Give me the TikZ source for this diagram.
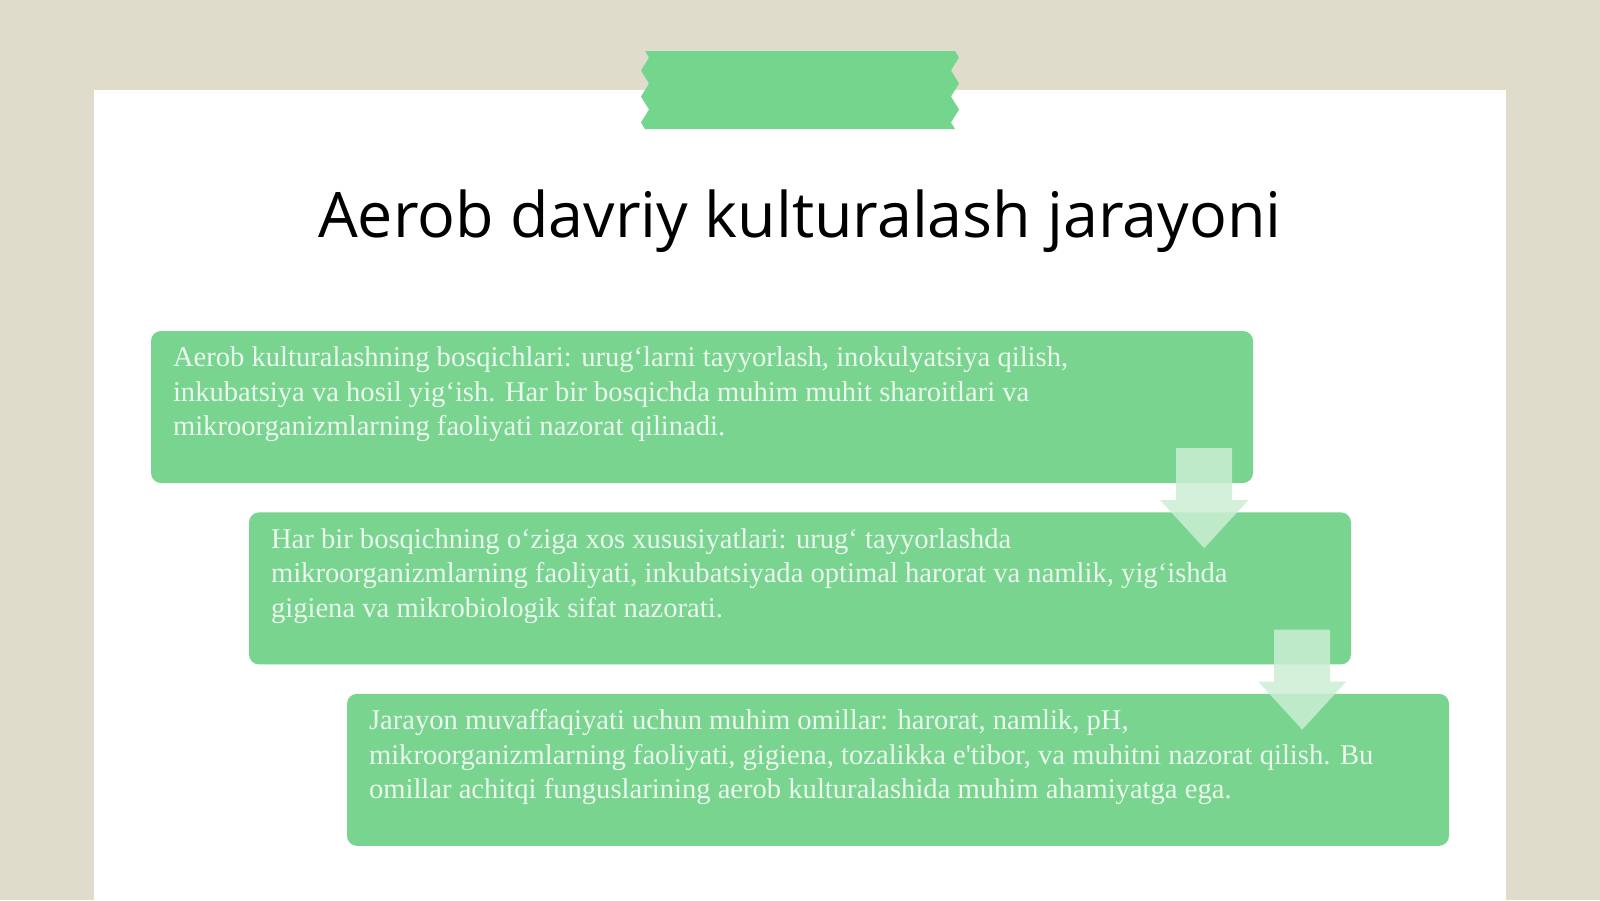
\documentclass[tikz,border=0pt]{standalone}
\usepackage{fontspec}
\setmainfont{Liberation Serif}[Ligatures=TeXOff]
\newfontfamily\titlefont{Open Sans}
\usetikzlibrary{positioning,calc,decorations.pathmorphing}

\definecolor{paper}{RGB}{224,220,204}
\definecolor{boxgreen}{RGB}{120,212,143}
\definecolor{tapegreen}{RGB}{116,213,140}
\definecolor{arrowgreen}{RGB}{204,238,212}

\tikzset{
  stepbox/.style = {fill=boxgreen, rounded corners=10pt, inner sep=0pt,
                    minimum width=1102pt, minimum height=152pt},
  steptext/.style = {text=white, text opacity=0.85, inner sep=0pt, align=left,
                     font=\fontsize{28.6}{34.5}\selectfont},
  flowarrow/.style = {fill=arrowgreen, fill opacity=0.85},
  tapeedge/.style = {decoration={zigzag, segment length=26pt, amplitude=4pt}},
}

\begin{document}
\begin{tikzpicture}[x=1pt, y=-1pt]
  \fill[paper] (0,0) rectangle (1600,900);
  \useasboundingbox (0,0) rectangle (1600,900);
  \fill[white] (94,90) rectangle (1506,900);

  % tape
  \fill[tapegreen] (645,51) -- (955,51)
    decorate[tapeedge] {-- (955,129)} -- (645,129)
    decorate[tapeedge] {-- (645,51)};

  \node[anchor=base, font=\titlefont\fontsize{62.8}{70}\selectfont] (title) at (800,237)
    {Aerob davriy kulturalash jarayoni};

  \node[stepbox] (box1) at (702,407) {};
  \node[stepbox, below=29pt of box1, xshift=98pt] (box2) {};
  \node[stepbox, below=29pt of box2, xshift=98pt] (box3) {};

  \node[steptext, below right=16pt and 22pt of box1.north west] (t1)
    {Aerob kulturalashning bosqichlari: urug‘larni tayyorlash, inokulyatsiya qilish,\\
     inkubatsiya va hosil yig‘ish. Har bir bosqichda muhim muhit sharoitlari va\\
     mikroorganizmlarning faoliyati nazorat qilinadi.};
  \node[steptext, below right=16pt and 22pt of box2.north west] (t2)
    {Har bir bosqichning o‘ziga xos xususiyatlari: urug‘ tayyorlashda\\
     mikroorganizmlarning faoliyati, inkubatsiyada optimal harorat va namlik, yig‘ishda\\
     gigiena va mikrobiologik sifat nazorati.};
  \node[steptext, below right=16pt and 22pt of box3.north west] (t3)
    {Jarayon muvaffaqiyati uchun muhim omillar: harorat, namlik, pH,\\
     mikroorganizmlarning faoliyati, gigiena, tozalikka e'tibor, va muhitni nazorat qilish. Bu\\
     omillar achitqi funguslarining aerob kulturalashida muhim ahamiyatga ega.};

  \foreach \a in {box1, box2}
    \fill[flowarrow] ($(\a.south east)+(-77,-35)$) -- ++(56,0) -- ++(0,52) -- ++(16,0)
      -- ++(-44,48) -- ++(-44,-48) -- ++(16,0) -- cycle;
\end{tikzpicture}
\end{document}
